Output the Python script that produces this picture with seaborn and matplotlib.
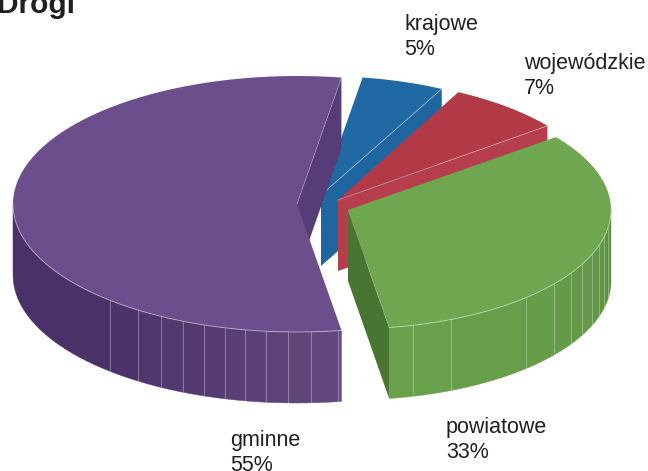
import numpy as np
import matplotlib
matplotlib.use("Agg")
import matplotlib.pyplot as plt
import seaborn as sns

# udzial drog wg kategorii, w kolejnosci ruchu wskazowek od gory
categories = ["krajowe", "wojewódzkie", "powiatowe", "gminne"]
shares = [5, 7, 33, 55]

title = "Drogi"
start_angle = 81
depth = 71

# wierzcholek i polosie kazdego wycinka (piksele), wysuniecie jest rozne
apex = [(321, 195), (338, 200), (348, 210), (297, 204)]
axes_ab = [(266, 119), (265, 121), (263, 119), (284, 128)]
top_colors = ["#2169a5", "#b23a47", "#6fa650", "#6b4e8b"]
cut_colors = ["#1f66a0", "#b63d4b", "#487632", "#573d77"]
wall_ends = [None, None, ("#69a14c", "#5d9243"), ("#4a3268", "#65497f")]
line_alpha = [0.4, 0.4, 0.1, 0.25]
label_pos = [(404, 14), (524, 53), (446, 417), (230, 430)]

# linie podzialu sciany bocznej, katy elipsy
seams = {
    2: [-75.7, -66.9, -47.4, -38.4, -32, -27.1, -21.9, -17.4, -13.3, -8.6],
    3: [228.8, 236, 241.4, 246.3, 250.9, 255.3, 259.5, 263.7, 268.2, 272.8, 278.3],
}

sns.set_theme(style="white")
plt.rcParams["font.family"] = ["Liberation Sans", "DejaVu Sans"]
text_color = "#231f20"
seam_color = (1, 1, 1, 0.3)


def arc(center, ab, t0, t1, drop=0, n=80):
    t = np.radians(np.linspace(t0, t1, n))
    return np.column_stack([center[0] + ab[0] * np.cos(t),
                            center[1] - ab[1] * np.sin(t) + drop])


fig = plt.figure(figsize=(6.48, 4.71), dpi=100)
ax = fig.add_axes([0, 0, 1, 1])
ax.set_xlim(0, 648)
ax.set_ylim(471, 0)
ax.axis("off")

# fioletowy najpierw, potem reszta od tylu do przodu
angles = start_angle - np.cumsum([0] + [s * 3.6 for s in shares])
for i in [3, 0, 1, 2]:
    high, low = angles[i], angles[i + 1]
    if i == 3:
        low, high = 81, 279
    c, ab = apex[i], axes_ab[i]

    # sciana ciecia
    edge = arc(c, ab, low, low, n=1)[0]
    quad = [c, edge, (edge[0], edge[1] + depth), (c[0], c[1] + depth)]
    ax.fill(*zip(*quad), color=cut_colors[i], lw=0, zorder=i + 1)

    # sciana boczna, kolor zmienia sie segmentami
    if wall_ends[i] is not None:
        a, b = (180, high) if i == 3 else (low, 0)
        steps = [a] + seams[i] + [b]
        colors = sns.blend_palette(wall_ends[i], len(steps) - 1)
        for k in range(len(steps) - 1):
            seg = arc(c, ab, steps[k], steps[k + 1], n=24)
            low_seg = seg[::-1] + [0, depth]
            ax.fill(*np.vstack([seg, low_seg]).T, color=colors[k], lw=0.3,
                    ec=colors[k], zorder=i + 1)
        for s in seams[i]:
            p = arc(c, ab, s, s, n=1)[0]
            ax.plot([p[0], p[0]], [p[1], p[1] + depth], color=seam_color,
                    lw=0.7, zorder=i + 1.2)
        ax.plot(*arc(c, ab, a, b).T, color=(1, 1, 1, 0.45), lw=0.7, zorder=i + 1.6)

    # wierzch wycinka
    top = np.vstack([[c], arc(c, ab, low, high)])
    ax.fill(*top.T, color=top_colors[i], lw=0, zorder=i + 1.4)
    ax.plot([c[0], edge[0]], [c[1], edge[1]], color=(1, 1, 1, line_alpha[i]), lw=0.6,
            zorder=i + 1.5)

for name, val, pos in zip(categories, shares, label_pos):
    ax.text(pos[0], pos[1], f"{name}\n{val}%", fontsize=15.5, color=text_color,
            ha="left", va="top", linespacing=1.26)

ax.text(-3, 13, title, fontsize=21.5, fontweight="bold", color=text_color,
        ha="left", va="baseline")

fig.savefig("out.png", dpi=100)
